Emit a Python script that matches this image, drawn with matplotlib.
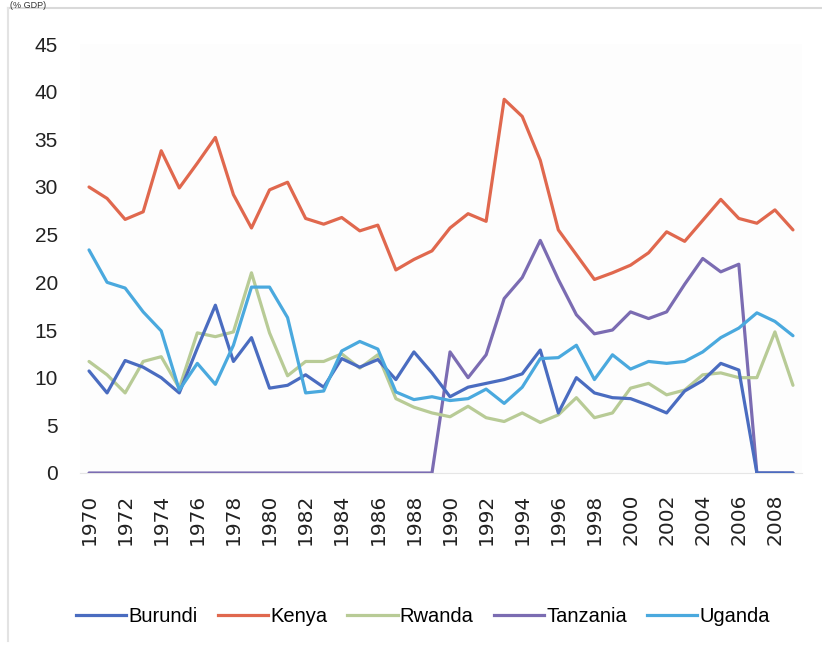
import matplotlib
matplotlib.use("Agg")
import matplotlib.pyplot as plt
from matplotlib import font_manager as fm
from matplotlib.lines import Line2D

years = list(range(1970, 2010))

burundi = [10.7, 8.4, 11.8, 11.1, 10.0, 8.4, 13.1, 17.6, 11.7, 14.2,
           8.9, 9.2, 10.3, 9.0, 12.0, 11.1, 11.9, 9.8, 12.7, 10.5,
           8.0, 9.0, 9.4, 9.8, 10.4, 12.9, 6.3, 10.0, 8.4, 7.9,
           7.8, 7.1, 6.3, 8.6, 9.7, 11.5, 10.8, 0.0, 0.0, 0.0]
kenya = [30.0, 28.8, 26.6, 27.4, 33.8, 29.9, 32.5, 35.2, 29.2, 25.7,
         29.7, 30.5, 26.7, 26.1, 26.8, 25.4, 26.0, 21.3, 22.4, 23.3,
         25.7, 27.2, 26.4, 39.2, 37.4, 32.8, 25.5, 22.9, 20.3, 21.0,
         21.8, 23.1, 25.3, 24.3, 26.5, 28.7, 26.7, 26.2, 27.6, 25.5]
rwanda = [11.7, 10.3, 8.4, 11.7, 12.2, 8.9, 14.7, 14.3, 14.8, 21.0,
          14.7, 10.2, 11.7, 11.7, 12.5, 11.0, 12.4, 7.8, 6.9, 6.3,
          5.9, 7.0, 5.8, 5.4, 6.3, 5.3, 6.1, 7.9, 5.8, 6.3,
          8.9, 9.4, 8.2, 8.7, 10.3, 10.5, 10.0, 10.0, 14.8, 9.2]
tanzania = [0.0] * 20 + [12.7, 10.0, 12.4, 18.3, 20.5, 24.4, 20.3, 16.6, 14.6, 15.0,
                         16.9, 16.2, 16.9, 19.8, 22.5, 21.1, 21.9, 0.0, 0.0, 0.0]
uganda = [23.4, 20.0, 19.4, 16.9, 14.9, 8.7, 11.5, 9.3, 13.4, 19.5,
          19.5, 16.3, 8.4, 8.6, 12.8, 13.8, 13.0, 8.5, 7.7, 8.0,
          7.6, 7.8, 8.8, 7.3, 9.0, 12.0, 12.1, 13.4, 9.8, 12.4,
          10.9, 11.7, 11.5, 11.7, 12.7, 14.2, 15.2, 16.8, 15.9, 14.4]

series_names = ["Burundi", "Kenya", "Rwanda", "Tanzania", "Uganda"]
series_values = [burundi, kenya, rwanda, tanzania, uganda]
series_colors = ["#4a6cc0", "#e0684e", "#b8cb96", "#7b6cb2", "#4aa9de"]
draw_order = ["Tanzania", "Kenya", "Rwanda", "Burundi", "Uganda"]

xtick_years = list(range(1970, 2009, 2))
yticks = list(range(0, 50, 5))

available = {f.name for f in fm.fontManager.ttflist}
narrow = "Liberation Sans Narrow" if "Liberation Sans Narrow" in available else "Liberation Sans"
narrow_size = 16 if narrow == "Liberation Sans Narrow" else 14.5

fig = plt.figure(figsize=(8.22, 6.54), dpi=100)
fig.patch.set_facecolor("white")

# chart-area frame (light gray, top and left visible)
fig.add_artist(Line2D([8 / 822, 1.0], [1 - 8 / 654, 1 - 8 / 654], color="#d9d9d9", lw=1.5,
                      transform=fig.transFigure))
fig.add_artist(Line2D([8 / 822, 8 / 822], [1 - 8 / 654, 0.02], color="#e3e3e3", lw=1.5,
                      transform=fig.transFigure))
fig.text(0.012, 0.999, "(% GDP)", fontsize=6.5, family=narrow, va="top", ha="left", color="#333333")

ax = fig.add_axes([80 / 822, (654 - 473) / 654, 722 / 822, 429 / 654])
ax.set_facecolor("#fdfdfd")

lookup = dict(zip(series_names, zip(series_values, series_colors)))
for name in draw_order:
    vals, col = lookup[name]
    ax.plot(years, vals, color=col, lw=2.3, solid_joinstyle="round", solid_capstyle="round", zorder=3)

ax.set_xlim(1969.5, 2009.5)
ax.set_ylim(0, 45)
ax.set_yticks(yticks)
ax.set_yticklabels([str(v) for v in yticks], family=narrow, fontsize=15, color="#222222")
ax.set_xticks(xtick_years)
ax.set_xticklabels([str(y) for y in xtick_years], rotation=90, family="DejaVu Sans",
                   fontsize=14.5, color="#222222")
ax.tick_params(axis="y", length=0, pad=16)
ax.tick_params(axis="x", length=0, pad=15)
for s in ["top", "right", "left"]:
    ax.spines[s].set_visible(False)
ax.spines["bottom"].set_color("#e6e6e6")

handles = [Line2D([0], [0], color=c, lw=2.3) for c in series_colors]
fig.legend(handles, series_names, loc="center", bbox_to_anchor=(423 / 822, (654 - 617) / 654),
           ncol=5, frameon=False, handlelength=2.5, handletextpad=0.1, columnspacing=1.0,
           prop={"family": narrow, "size": 14.5})

fig.savefig("out.png", dpi=100, facecolor="white")
